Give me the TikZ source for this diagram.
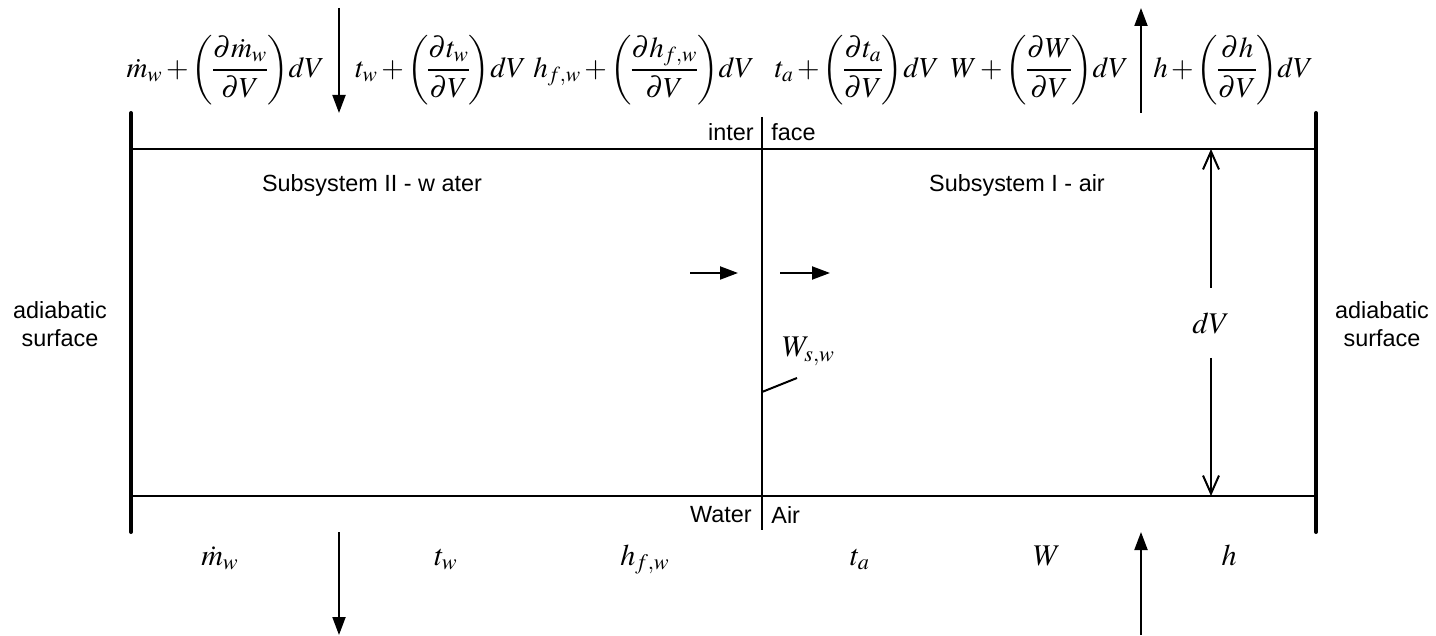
\documentclass[tikz,border=0pt]{standalone}
\usepackage{mathptmx}
\usepackage{fontspec}
\setsansfont{Liberation Sans}
\usetikzlibrary{arrows.meta}
\newcommand{\eqf}[1]{$\displaystyle\medmuskip=2mu\relax\nulldelimiterspace=0pt\relax #1$}
\tikzset{
  wall/.style={line width=2pt, line cap=round},
  plainline/.style={line width=1pt},
  flow/.style={line width=1pt, -{Triangle[length=9pt,width=6.5pt]}},
  dimarrow/.style={line width=1pt, -{Straight Barb[length=9pt,width=8pt]}},
  lbl/.style={font=\sffamily\fontsize{11.7}{14}\selectfont, inner sep=0pt},
  eq/.style={font=\fontsize{14.5}{17}\selectfont, inner sep=0pt},
  sym/.style={font=\fontsize{15}{18}\selectfont, inner sep=0pt}
}
\begin{document}
\begin{tikzpicture}[x=0.5pt,y=-0.5pt]
\useasboundingbox (0,0) rectangle (1436,636);
% frame coordinates
\coordinate (LT) at (131,113); \coordinate (LB) at (131,532);
\coordinate (RT) at (1316,113); \coordinate (RB) at (1316,532);
\coordinate (TL) at (131,149); \coordinate (TR) at (1316,149);
\coordinate (BL) at (131,496); \coordinate (BR) at (1316,496);
\coordinate (IT) at (762,117); \coordinate (IB) at (762,530);
\draw[wall] (LT) -- (LB);
\draw[wall] (RT) -- (RB);
\draw[plainline] (TL) -- (TR);
\draw[plainline] (BL) -- (BR);
\draw[plainline] (IT) -- (IB);
% top formulas
\node[eq, anchor=east] (f1) at (325,70) {\eqf{\dot m_w+{\left(\frac{\partial \dot m_w}{\partial V}\right)}dV}};
\node[eq, anchor=west] (f2) at (355,70) {\eqf{t_w+{\left(\frac{\partial t_w}{\partial V}\right)}dV}};
\node[eq] (f3) at (644,70) {\eqf{h_{f,w}+{\left(\frac{\partial h_{f,w}}{\partial V}\right)}dV}};
\node[eq] (f4) at (857,70) {\eqf{t_a+{\left(\frac{\partial t_a}{\partial V}\right)}dV}};
\node[eq, anchor=east] (f5) at (1129,70) {\eqf{W+{\left(\frac{\partial W}{\partial V}\right)}dV}};
\node[eq, anchor=west] (f6) at (1153,70) {\eqf{h+{\left(\frac{\partial h}{\partial V}\right)}dV}};
% top arrows
\coordinate (a1s) at (339,8); \coordinate (a1e) at (339,113);
\coordinate (a2s) at (1141,113); \coordinate (a2e) at (1141,8);
\draw[flow] (a1s) -- (a1e);
\draw[flow] (a2s) -- (a2e);
% bottom labels
\node[sym, anchor=base] (b1) at (220,565) {$\dot m_w$};
\node[sym, anchor=base] (b2) at (446,565) {$t_w$};
\node[sym, anchor=base] (b3) at (645,565) {$h_{f,w}$};
\node[sym, anchor=base] (b4) at (860,565) {$t_a$};
\node[sym, anchor=base] (b5) at (1047,565) {$W$};
\node[sym, anchor=base] (b6) at (1229,565) {$h$};
% bottom arrows
\coordinate (a3s) at (339,532); \coordinate (a3e) at (339,635);
\coordinate (a4s) at (1141,635); \coordinate (a4e) at (1141,532);
\draw[flow] (a3s) -- (a3e);
\draw[flow] (a4s) -- (a4e);
% interface labels
\node[lbl, anchor=east] (inter) at (754,132) {inter};
\node[lbl, anchor=west] (face) at (771,132) {face};
\node[lbl, anchor=east] (water) at (752,515) {Water};
\node[lbl, anchor=west] (air) at (771,515) {Air};
% subsystem labels
\node[lbl, anchor=base] (sub2) at (372,192) {Subsystem II - w ater};
\node[lbl, anchor=base] (sub1) at (1017,192) {Subsystem I - air};
% adiabatic surfaces
\node[lbl, align=center] (adl) at (60,324) {adiabatic\\surface};
\node[lbl, align=center] (adr) at (1382,324) {adiabatic\\surface};
% dV dimension
\node[sym] (dv) at (1211,323) {$dV$};
\coordinate (dvt) at (1211,149); \coordinate (dvb) at (1211,496);
\coordinate (dvg1) at (1211,288); \coordinate (dvg2) at (1211,358);
\draw[dimarrow] (dvg1) -- (dvt);
\draw[dimarrow] (dvg2) -- (dvb);
% transfer arrows
\coordinate (h1s) at (690,273); \coordinate (h1e) at (738,273);
\coordinate (h2s) at (780,273); \coordinate (h2e) at (830,273);
\draw[flow] (h1s) -- (h1e);
\draw[flow] (h2s) -- (h2e);
% W_s,w label with leader
\node[sym, anchor=base west] (wsw) at (782,357) {$W_{s,w}$};
\coordinate (ld1) at (762,392); \coordinate (ld2) at (797,378);
\draw[plainline] (ld1) -- (ld2);
\end{tikzpicture}
\end{document}
